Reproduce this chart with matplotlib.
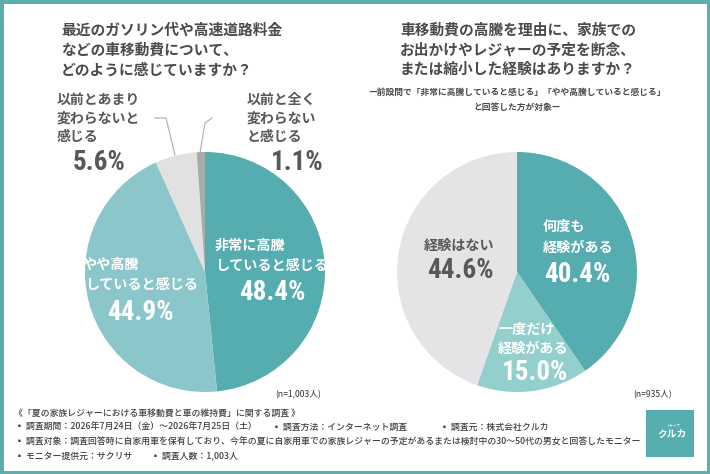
import matplotlib
matplotlib.use('Agg')
from matplotlib import pyplot as plt
from matplotlib import font_manager
from matplotlib.patches import Rectangle
from matplotlib.lines import Line2D

plt.rcParams['font.family'] = ['Noto Sans CJK JP', 'DejaVu Sans']

# data
left_labels = ['非常に高騰\nしていると感じる', 'やや高騰\nしていると感じる',
               '以前とあまり\n変わらないと\n感じる', '以前と全く\n変わらない\nと感じる']
left_values = [48.4, 44.9, 5.6, 1.1]
left_colors = ['#56adaf', '#8bc7ca', '#e1e1e1', '#a9abaa']
left_n = '(n=1,003人)'

right_labels = ['何度も\n経験がある', '一度だけ\n経験がある', '経験はない']
right_values = [40.4, 15.0, 44.6]
right_colors = ['#56adaf', '#92cfcd', '#e4e3e6']
right_n = '(n=935人)'

left_title = ['最近のガソリン代や高速道路料金', 'などの車移動費について、', 'どのように感じていますか？']
right_title = ['車移動費の高騰を理由に、家族での', 'お出かけやレジャーの予定を断念、', 'または縮小した経験はありますか？']
right_sub = ['ー前設問で「非常に高騰していると感じる」「やや高騰していると感じる」', 'と回答した方が対象ー']

footer = [
    [(14, '《「夏の家族レジャーにおける車移動費と車の維持費」に関する調査 》')],
    [(15, '▪ 調査期間：2026年7月24日（金）～2026年7月25日（土）'), (272, '▪ 調査方法：インターネット調査'), (440, '▪ 調査元：株式会社クルカ')],
    [(15, '▪ 調査対象：調査回答時に自家用車を保有しており、今年の夏に自家用車での家族レジャーの予定があるまたは検討中の30～50代の男女と回答したモニター')],
    [(15, '▪ モニター提供元：サクリサ'), (151, '▪ 調査人数：1,003人')],
]
footer_y = [413, 427, 442, 456]

W, H = 710, 474
dark = '#4a4a4a'
teal = '#5aaeac'

# narrow font for the big numbers if one is there
names = set(f.name for f in font_manager.fontManager.ttflist)
if 'Roboto Condensed' in names:
    numfont, numsize = 'Roboto Condensed', 19.5
elif 'Liberation Sans Narrow' in names:
    numfont, numsize = 'Liberation Sans Narrow', 19.5
else:
    numfont, numsize = 'Roboto', 18


def px(x, y):
    return x / W, 1 - y / H


def txt(x, y, s, **kw):
    fx, fy = px(x, y)
    fig.text(fx, fy, s, **kw)


def pct(v):
    return '%.1f%%' % v


def num(x, y, v, color, ha='center'):
    txt(x, y, pct(v), fontsize=numsize, fontweight='bold', color=color, ha=ha, va='center', family=numfont)


fig = plt.figure(figsize=(7.1, 4.74), dpi=100)
fig.patch.set_facecolor('white')

# pies
for cx, vals, cols in [(205, left_values, left_colors), (517, right_values, right_colors)]:
    r = 120
    ax = fig.add_axes([(cx - r) / W, (H - 272 - r) / H, 2 * r / W, 2 * r / H])
    ax.pie(vals, colors=cols, startangle=90, counterclock=False, radius=1,
           wedgeprops=dict(linewidth=0))
    ax.set_xlim(-1, 1)
    ax.set_ylim(-1, 1)
    ax.set_aspect('equal')
    ax.axis('off')

# titles
for i, s in enumerate(left_title):
    txt(61, 30 + i * 20, s, fontsize=10.6, fontweight='bold', color=dark, ha='left', va='center')
for i, s in enumerate(right_title):
    txt(400, 30 + i * 19.5, s, fontsize=10.6, fontweight='bold', color=dark, ha='left', va='center')
for i, s in enumerate(right_sub):
    txt(517, 92 + i * 15, s, fontsize=6.3, fontweight='bold', color=dark, ha='center', va='center')

# left pie labels
lines = left_labels[0].split('\n')
txt(215, 246, lines[0], fontsize=10.2, fontweight='bold', color='white', va='center')
txt(215, 266, lines[1], fontsize=10.2, fontweight='bold', color='white', va='center')
num(272, 292, left_values[0], 'white')

lines = left_labels[1].split('\n')
txt(82, 265, lines[0], fontsize=10.2, fontweight='bold', color='white', va='center')
txt(85, 285, lines[1], fontsize=10.2, fontweight='bold', color='white', va='center')
num(140, 312, left_values[1], 'white')

gray_txt = '#585858'
for i, s in enumerate(left_labels[2].split('\n')):
    txt(57, 100 + i * 18.5, s, fontsize=10, fontweight='bold', color=gray_txt, va='center')
num(73, 162, left_values[2], gray_txt, ha='left')

for i, s in enumerate(left_labels[3].split('\n')):
    txt(247, 100 + i * 18.5, s, fontsize=10, fontweight='bold', color=gray_txt, va='center')
num(324, 162, left_values[3], gray_txt, ha='right')

# leader lines
for pts in [[(155, 118), (166, 118), (175, 155)], [(212, 118), (205, 123), (200, 153)]]:
    xs = [px(p[0], p[1])[0] for p in pts]
    ys = [px(p[0], p[1])[1] for p in pts]
    fig.add_artist(Line2D(xs, ys, color='#b5b5b5', linewidth=0.9, transform=fig.transFigure))

# right pie labels
lines = right_labels[0].split('\n')
txt(543, 227, lines[0], fontsize=10.2, fontweight='bold', color='white', va='center')
txt(543, 248, lines[1], fontsize=10.2, fontweight='bold', color='white', va='center')
num(577, 275, right_values[0], 'white')

lines = right_labels[1].split('\n')
txt(498, 330, lines[0], fontsize=10.2, fontweight='bold', color='white', va='center')
txt(498, 349, lines[1], fontsize=10.2, fontweight='bold', color='white', va='center')
num(535, 373, right_values[1], 'white')

txt(424, 246, right_labels[2], fontsize=10.2, fontweight='bold', color=gray_txt, va='center')
num(460, 271, right_values[2], gray_txt)

# sample sizes
txt(321, 395, left_n, fontsize=6.2, color='#333333', ha='right', va='center')
txt(672, 395, right_n, fontsize=6.2, color='#333333', ha='right', va='center')

# footer
for row, y in zip(footer, footer_y):
    for x, s in row:
        txt(x, y, s, fontsize=6.4, fontweight='medium', color='#404040', ha='left', va='center')

# logo
lx, ly = px(646, 457)
fig.add_artist(Rectangle((lx, ly), 48 / W, 47 / H, transform=fig.transFigure,
                         facecolor='#55afae', edgecolor='none'))
txt(672, 434, 'クルカ', fontsize=7, fontweight='bold', color='white', ha='center', va='center', style='italic')
txt(674, 426, 'ドライブ', fontsize=2.5, color='white', ha='center', va='center')

# frame
fig.add_artist(Rectangle((0, 0), 1, 1, transform=fig.transFigure, fill=False,
                         edgecolor=teal, linewidth=5, clip_on=True))

fig.savefig('out.png', dpi=100, facecolor='white')
